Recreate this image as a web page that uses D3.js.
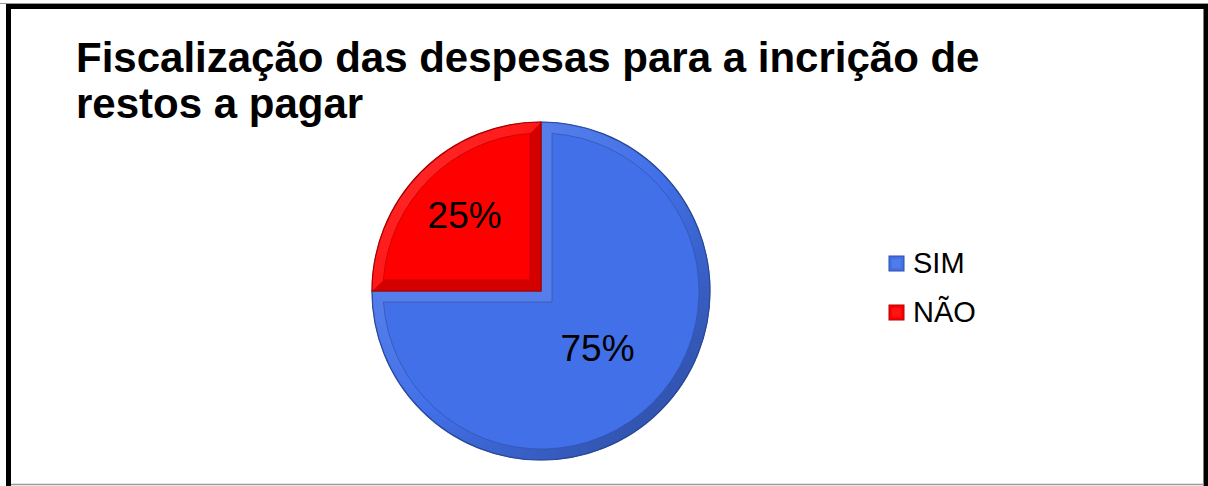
<!DOCTYPE html>
<html>
<head>
<meta charset="utf-8">
<script src="https://cdn.jsdelivr.net/npm/d3@7"></script>
<style>
  html, body { margin: 0; padding: 0; background: #fff; }
  svg { display: block; }
</style>
</head>
<body>
<svg id="chart" width="1208" height="486"></svg>
<script>
// ---- data ----
const categories = ["SIM", "NÃO"];
const shares = [75, 25];
const sliceColors = ["#4270e8", "#ff0000"];
const titleLines = ["Fiscalização das despesas para a incrição de", "restos a pagar"];

const W = 1208, H = 486;
const FONT = "'Liberation Sans', Arial, Helvetica, sans-serif";
const svg = d3.select("#chart");

// ---- frame ----
svg.append("line").attr("x1", 0).attr("x2", W).attr("y1", 3.5).attr("y2", 3.5)
  .attr("stroke", "#9a9a9a").attr("stroke-width", 1);
svg.append("rect").attr("x", 8.5).attr("y", 6.5).attr("width", 1197.5).attr("height", 540)
  .attr("fill", "none").attr("stroke", "#000").attr("stroke-width", 5);
svg.append("line").attr("x1", 11).attr("x2", 1204).attr("y1", 484.5).attr("y2", 484.5)
  .attr("stroke", "#9a9a9a").attr("stroke-width", 1.5);

// ---- title ----
const title = svg.append("text")
  .attr("font-family", FONT).attr("font-weight", "bold")
  .attr("font-size", 42).attr("fill", "#000");
titleLines.forEach((t, i) => {
  title.append("tspan").attr("x", 76).attr("y", 72 + i * 46).text(t);
});

// ---- pie ----
const cx = 541, cy = 291, R = 169, bevel = 11;
const Rin = R - bevel;
const arcs = d3.pie().sort(null).value(d => d)(shares);
const lightAngle = 7 * Math.PI / 4;   // light from the upper left

function pt(a, r) { return [cx + r * Math.sin(a), cy - r * Math.cos(a)]; }
function shade(base, normalAngle) {
  const b = Math.cos(normalAngle - lightAngle);
  return b >= 0 ? d3.interpolateRgb(base, "#ffffff")(b * 0.14)
                : d3.interpolateRgb(base, "#000000")(-b * 0.24);
}
const poly = pts => "M" + pts.map(p => p.join(",")).join("L") + "Z";

const pieG = svg.append("g");
const outerArc = d3.arc().innerRadius(0).outerRadius(R);

arcs.forEach((p, i) => {
  const base = sliceColors[i];
  const a0 = p.startAngle, a1 = p.endAngle;
  const delta = Math.asin(bevel / Rin);
  const mid = (a0 + a1) / 2;
  const k = bevel / Math.sin((a1 - a0) / 2);
  const corner = [cx + k * Math.sin(mid), cy - k * Math.cos(mid)];
  const g = pieG.append("g");

  // base slice
  g.append("path").attr("transform", `translate(${cx},${cy})`)
    .attr("d", outerArc(p)).attr("fill", base);

  // bevel faces along the two straight edges
  const c0 = shade(base, a0 - Math.PI / 2);
  g.append("path").attr("d", poly([[cx, cy], pt(a0, R), pt(a0 + delta, Rin), corner]))
    .attr("fill", c0).attr("stroke", c0).attr("stroke-width", 0.5);
  const c1 = shade(base, a1 + Math.PI / 2);
  g.append("path").attr("d", poly([[cx, cy], pt(a1, R), pt(a1 - delta, Rin), corner]))
    .attr("fill", c1).attr("stroke", c1).attr("stroke-width", 0.5);

  // bevel face along the rim, shaded by its outward direction
  const n = Math.ceil((a1 - a0) / (Math.PI / 180));
  for (let j = 0; j < n; j++) {
    const t0 = a0 + (a1 - a0) * j / n, t1 = a0 + (a1 - a0) * (j + 1) / n;
    const u0 = a0 + delta + (a1 - a0 - 2 * delta) * j / n;
    const u1 = a0 + delta + (a1 - a0 - 2 * delta) * (j + 1) / n;
    const c = shade(base, (t0 + t1) / 2);
    g.append("path").attr("d", poly([pt(t0, R), pt(t1, R), pt(u1, Rin), pt(u0, Rin)]))
      .attr("fill", c).attr("stroke", c).attr("stroke-width", 0.6);
  }

  // flat top face
  const top = d3.path();
  const s = pt(a0 + delta, Rin);
  top.moveTo(corner[0], corner[1]);
  top.lineTo(s[0], s[1]);
  top.arc(cx, cy, Rin, a0 + delta - Math.PI / 2, a1 - delta - Math.PI / 2);
  top.closePath();
  g.append("path").attr("d", top.toString()).attr("fill", base)
    .attr("stroke", d3.interpolateRgb(base, "#000")(0.3)).attr("stroke-width", 1).attr("stroke-opacity", 0.6);

  // outer outline
  g.append("path").attr("transform", `translate(${cx},${cy})`)
    .attr("d", outerArc(p)).attr("fill", "none")
    .attr("stroke", d3.interpolateRgb(base, "#000")(0.35)).attr("stroke-width", 1.2);
});

// ---- value labels ----
const labelRadius = [80, 108];
const total = d3.sum(shares);
arcs.forEach((p, i) => {
  const m = (p.startAngle + p.endAngle) / 2;
  const [x, y] = pt(m, labelRadius[i]);
  svg.append("text")
    .attr("x", x).attr("y", y + 13)
    .attr("text-anchor", "middle")
    .attr("font-family", FONT).attr("font-size", 37).attr("fill", "#000")
    .text(Math.round(p.value / total * 100) + "%");
});

// ---- legend ----
const legend = svg.append("g").attr("transform", "translate(889,256)");
categories.forEach((c, i) => {
  const row = legend.append("g").attr("transform", `translate(0,${i * 49})`);
  const base = sliceColors[i];
  row.append("rect").attr("width", 15).attr("height", 15).attr("fill", base)
    .attr("stroke", d3.interpolateRgb(base, "#000")(0.3)).attr("stroke-width", 1);
  row.append("rect").attr("x", 3).attr("y", 3).attr("width", 9).attr("height", 9)
    .attr("fill", d3.interpolateRgb(base, "#fff")(0.08));
  row.append("text").attr("x", 24).attr("y", 17)
    .attr("font-family", FONT).attr("font-size", 29).attr("fill", "#000")
    .text(c);
});
</script>
</body>
</html>
